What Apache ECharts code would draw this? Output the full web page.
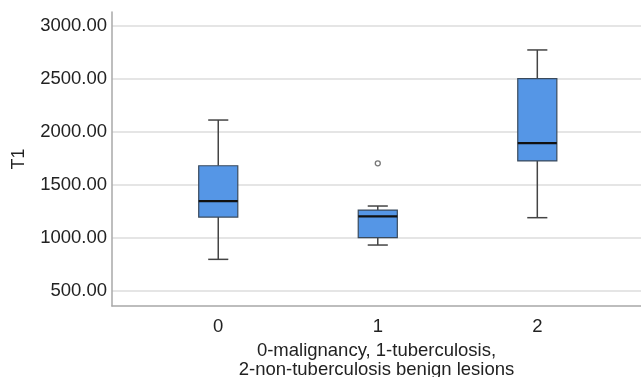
<!DOCTYPE html>
<html>
<head>
<meta charset="utf-8">
<script src="https://cdn.jsdelivr.net/npm/echarts@6/dist/echarts.min.js"></script>
<style>
html,body{margin:0;padding:0;background:#fff;}
#c{width:641px;height:377px;}
</style>
</head>
<body>
<div id="c"></div>
<script>
const categories = ['0', '1', '2'];
const mins = [796, 931, 1189];
const q1s = [1195, 1000, 1724];
const medians = [1346, 1202, 1893];
const q3s = [1679, 1261, 2500];
const maxs = [2110, 1299, 2771];
const outliers = [[1, 1702]];
const yTicks = [500, 1000, 1500, 2000, 2500, 3000];
const yName = 'T1';
const xName = '0-malignancy, 1-tuberculosis,\n2-non-tuberculosis benign lesions';

const boxData = categories.map((c, i) => [i, mins[i], q1s[i], medians[i], q3s[i], maxs[i]]);
const FONT = 'Liberation Sans, Arial, Helvetica, sans-serif';

const chart = echarts.init(document.getElementById('c'), null, {renderer: 'canvas'});
chart.setOption({
  animation: false,
  backgroundColor: '#ffffff',
  grid: {left: 112, right: 0, top: 12, bottom: 71, containLabel: false, outerBoundsMode: 'none'},
  xAxis: {
    type: 'value',
    min: -0.666,
    max: 2.65,
    axisLine: {show: true, onZero: false, lineStyle: {color: '#a8a8a8', width: 1.5}},
    axisTick: {show: false, customValues: [0, 1, 2]},
    splitLine: {show: false},
    axisLabel: {
      customValues: [0, 1, 2],
      formatter: v => categories[Math.round(v)],
      color: '#222', fontSize: 18.5, fontFamily: FONT, margin: 11
    },
    name: xName,
    nameLocation: 'middle',
    nameGap: 34,
    nameTextStyle: {color: '#222', fontSize: 18.5, fontFamily: FONT, lineHeight: 19.5}
  },
  yAxis: {
    type: 'value',
    min: 356,
    max: 3129,
    axisLine: {show: true, onZero: false, lineStyle: {color: '#a8a8a8', width: 1.5}},
    axisTick: {show: false, customValues: yTicks},
    splitLine: {show: true, lineStyle: {color: '#dcdcdc', width: 1.5}},
    axisLabel: {
      customValues: yTicks,
      formatter: v => v.toFixed(2),
      color: '#222', fontSize: 18.5, fontFamily: FONT, margin: 5
    },
    name: yName,
    nameLocation: 'middle',
    nameRotate: 90,
    nameGap: 84,
    nameTextStyle: {color: '#222', fontSize: 18, fontFamily: FONT}
  },
  series: [
    {
      type: 'custom',
      data: boxData,
      encode: {x: 0, y: [1, 2, 3, 4, 5]},
      renderItem: function (params, api) {
        const x = api.value(0);
        const pMin = api.coord([x, api.value(1)]);
        const pQ1 = api.coord([x, api.value(2)]);
        const pMed = api.coord([x, api.value(3)]);
        const pQ3 = api.coord([x, api.value(4)]);
        const pMax = api.coord([x, api.value(5)]);
        const halfBox = api.size([0.1225, 0])[0];
        const halfCap = api.size([0.063, 0])[0];
        const cx = pMed[0];
        const wStyle = {stroke: '#444', lineWidth: 1.5};
        return {
          type: 'group',
          children: [
            {type: 'line', shape: {x1: cx, y1: pMax[1], x2: cx, y2: pQ3[1]}, style: wStyle},
            {type: 'line', shape: {x1: cx, y1: pQ1[1], x2: cx, y2: pMin[1]}, style: wStyle},
            {type: 'line', shape: {x1: cx - halfCap, y1: pMax[1], x2: cx + halfCap, y2: pMax[1]}, style: wStyle},
            {type: 'line', shape: {x1: cx - halfCap, y1: pMin[1], x2: cx + halfCap, y2: pMin[1]}, style: wStyle},
            {type: 'rect', shape: {x: cx - halfBox, y: pQ3[1], width: halfBox * 2, height: pQ1[1] - pQ3[1]},
              style: {fill: '#5596e6', stroke: '#3a4a5c', lineWidth: 1.2}},
            {type: 'line', shape: {x1: cx - halfBox, y1: pMed[1], x2: cx + halfBox, y2: pMed[1]},
              style: {stroke: '#111', lineWidth: 2.2}}
          ]
        };
      }
    },
    {
      type: 'scatter',
      data: outliers,
      symbol: 'circle',
      symbolSize: 5,
      itemStyle: {color: '#fff', borderColor: '#555', borderWidth: 1.3}
    }
  ]
});
</script>
</body>
</html>
